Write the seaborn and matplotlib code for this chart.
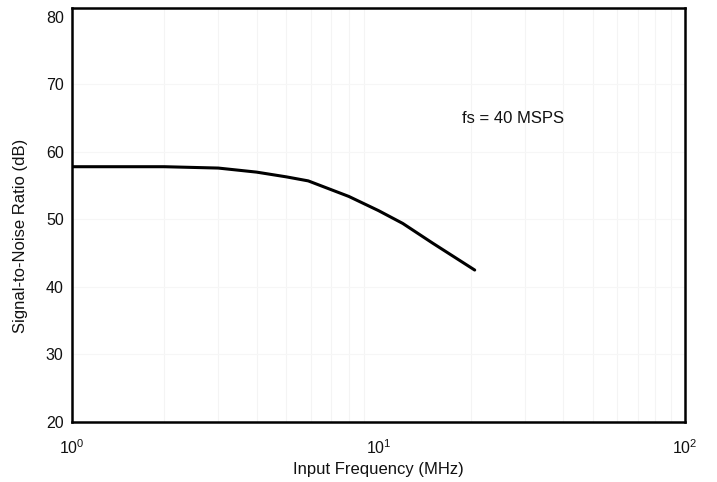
import numpy as np
import pandas as pd
import matplotlib
matplotlib.use("Agg")
import matplotlib.pyplot as plt
import seaborn as sns

freq_mhz = [1.0, 2.0, 3.0, 4.0, 5.0, 5.9, 8.0, 10.0, 12.0, 15.0, 20.6]
snr_db = [57.8, 57.8, 57.6, 57.0, 56.3, 55.7, 53.4, 51.3, 49.4, 46.5, 42.5]
x_ticks = [1, 10, 100]
x_tick_labels = [r"$10^0$", r"$10^1$", r"$10^2$"]
y_ticks = [20, 30, 40, 50, 60, 70, 80]

sns.set_theme(style="white")
plt.rcParams['font.family'] = ['Liberation Sans', 'DejaVu Sans']
plt.rcParams['mathtext.fontset'] = 'custom'
plt.rcParams['mathtext.rm'] = 'Liberation Sans'
plt.rcParams['mathtext.it'] = 'Liberation Sans'

df = pd.DataFrame({"freq": freq_mhz, "snr": snr_db})

fig = plt.figure(figsize=(7.17, 4.82), dpi=100)
ax = fig.add_axes([72 / 717, 1 - 422 / 482, (685 - 72) / 717, (422 - 8) / 482])

ax.set_xscale("log")
ax.set_xlim(1, 100)
ax.set_ylim(20, 81.3)

# faint grid as in scanned datasheet
minor = [m * d for d in (1, 10) for m in range(2, 10)]
for xv in minor:
    ax.axvline(xv, color="#f4f4f4", lw=0.8, zorder=0)
for yv in y_ticks[1:-1]:
    ax.axhline(yv, color="#f6f6f6", lw=0.8, zorder=0)

sns.lineplot(data=df, x="freq", y="snr", ax=ax, color="black", linewidth=2.2)

ax.set_xticks(x_ticks)
ax.set_xticklabels(x_tick_labels, fontsize=11.5)
ax.xaxis.set_minor_locator(matplotlib.ticker.NullLocator())
ax.set_yticks(y_ticks)
ax.set_yticklabels([str(v) for v in y_ticks], fontsize=11.5)
ax.tick_params(axis="both", length=0, pad=6, colors="#111111")
ax.tick_params(axis="x", pad=12)

ax.set_xlabel("Input Frequency (MHz)", fontsize=12, labelpad=3, color="#111111")
ax.set_ylabel("Signal-to-Noise Ratio (dB)", fontsize=12, color="#111111")
ax.yaxis.set_label_coords(-0.072, 0.45)

for s in ax.spines.values():
    s.set_visible(True)
    s.set_color("black")
    s.set_linewidth(1.8)

ax.text(0.72, 0.733, "fs = 40 MSPS", transform=ax.transAxes, fontsize=12,
        ha="center", va="center", color="#111111")

fig.savefig("out.png", dpi=100)
